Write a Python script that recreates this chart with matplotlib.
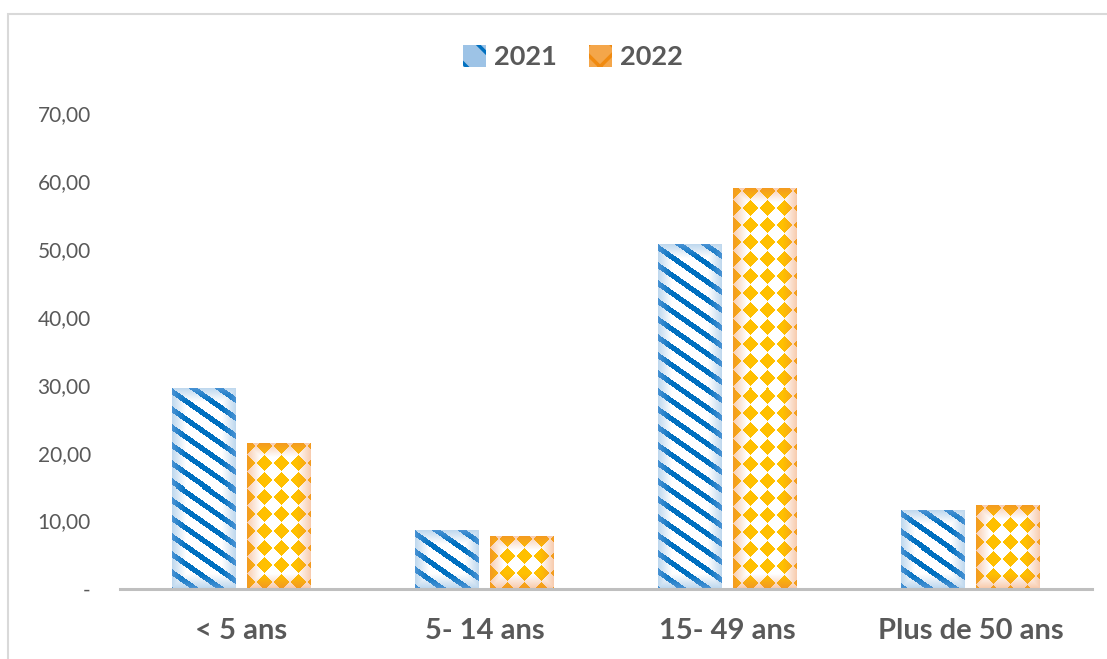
import numpy as np
import matplotlib
matplotlib.use("Agg")
import matplotlib.pyplot as plt
from matplotlib.patches import Patch, Rectangle
from matplotlib.ticker import FixedLocator, FixedFormatter

plt.rcParams["font.family"] = ["Lato", "DejaVu Sans"]
plt.rcParams["hatch.linewidth"] = 2.5

categories = ["< 5 ans", "5- 14 ans", "15- 49 ans", "Plus de 50 ans"]
series_names = ["2021", "2022"]
values_2021 = [29.3, 8.5, 50.6, 11.4]
values_2022 = [21.3, 7.6, 58.8, 12.2]
yticks = [0, 10, 20, 30, 40, 50, 60, 70]
ytick_labels = ["-", "10,00", "20,00", "30,00", "40,00", "50,00", "60,00", "70,00"]

W_PX, H_PX, DPI = 1107, 659, 100


def hex_rgb(h):
    h = h.lstrip("#")
    return np.array([int(h[i:i + 2], 16) for i in (0, 2, 4)]) / 255.0


def edge_fade(H, W, width):
    r, c = np.mgrid[0:H, 0:W]
    d = np.minimum.reduce([c + 0.5, W - c - 0.5, r + 0.5, H - r - 0.5])
    return np.clip(d / width, 0, 1)[..., None], r, c


def stripes_texture(H, W):
    t, r, c = edge_fade(H, W, 14.0)
    white = hex_rgb("#FFFFFF")
    bg = hex_rgb("#BDD7EE") * (1 - t) + white * t
    fg = hex_rgb("#4A93D4") * (1 - t) + hex_rgb("#0070C0") * t
    mask = ((r - 0.7 * c) % 18) < 6.5
    return np.where(mask[..., None], fg, bg)


def diamond_texture(H, W):
    t, r, c = edge_fade(H, W, 14.0)
    white = hex_rgb("#FFFFFF")
    bg = hex_rgb("#F8CBAD") * (1 - t) + white * t
    fg = hex_rgb("#F39A22") * (1 - t) + hex_rgb("#FFC000") * t
    dx = np.abs(((c + 8.5) % 17) - 8.5)
    dy = np.abs(((r + 6) % 17) - 8.5)
    mask = ((dx + dy) <= 8.0) | (np.maximum(dx, dy) <= 3.5)
    return np.where(mask[..., None], fg, bg)


def texture_bars(ax, bars, maker):
    for b in bars:
        x0, y0 = b.get_x(), b.get_y()
        x1, y1 = x0 + b.get_width(), y0 + b.get_height()
        (px0, py0), (px1, py1) = ax.transData.transform([(x0, y0), (x1, y1)])
        w = max(int(round(px1 - px0)), 1)
        h = max(int(round(py1 - py0)), 1)
        img = maker(h, w)
        ax.imshow(img, extent=(x0, x1, y0, y1), aspect="auto",
                  interpolation="nearest", zorder=2, clip_path=b)


fig = plt.figure(figsize=(W_PX / DPI, H_PX / DPI), dpi=DPI)
ax = fig.add_axes([120 / W_PX, 70.5 / H_PX, 972 / W_PX, 475.5 / H_PX])

x = np.arange(len(categories))
bw = 0.263
off = 0.156
ax.set_xlim(-0.5, 3.5)
ax.set_ylim(0, 70)

bars21 = ax.bar(x - off, values_2021, bw, facecolor="none", edgecolor="none", zorder=2)
bars22 = ax.bar(x + off, values_2022, bw, facecolor="none", edgecolor="none", zorder=2)
texture_bars(ax, bars21, stripes_texture)
texture_bars(ax, bars22, diamond_texture)
ax.set_xlim(-0.5, 3.5)
ax.set_ylim(0, 70)

for s in ["top", "right", "left"]:
    ax.spines[s].set_visible(False)
ax.spines["bottom"].set_color("#BFBFBF")
ax.spines["bottom"].set_linewidth(2.2)
ax.spines["bottom"].set_zorder(3)

ax.yaxis.set_major_locator(FixedLocator(yticks))
ax.yaxis.set_major_formatter(FixedFormatter(ytick_labels))
ax.tick_params(axis="y", length=0, pad=21, labelsize=15, labelcolor="#595959")
ax.set_xticks(x)
ax.set_xticklabels(categories, fontweight="bold")
ax.tick_params(axis="x", length=0, pad=21, labelsize=21, labelcolor="#595959")

handles = [
    Patch(facecolor="#9DC3E6", edgecolor="#0070C0", hatch="\\", linewidth=0),
    Patch(facecolor="#F4A64A", edgecolor="#F08A10", hatch="x", linewidth=0),
]
fig.legend(handles, series_names, loc="center", bbox_to_anchor=(573 / W_PX, 1 - 57 / H_PX),
           ncol=2, frameon=False, handlelength=0.85, handleheight=0.85,
           handletextpad=0.3, columnspacing=1.2,
           prop={"family": ["Lato", "DejaVu Sans"], "weight": "bold", "size": 19.5},
           labelcolor="#595959")

fig.patches.append(Rectangle((7.5 / W_PX, -0.1), 1.2, 1.1 - 13.5 / H_PX,
                             transform=fig.transFigure, fill=False,
                             edgecolor="#D9D9D9", linewidth=1.5))

fig.savefig("out.png", dpi=DPI)
